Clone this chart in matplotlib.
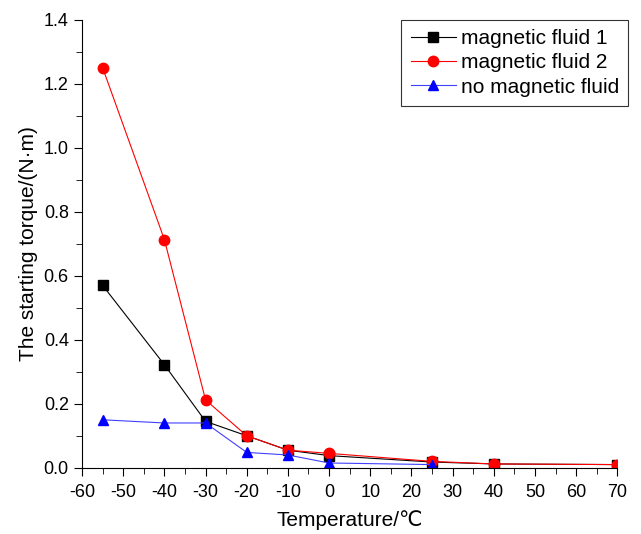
import numpy as np
import matplotlib
matplotlib.use("Agg")
import matplotlib.pyplot as plt
from matplotlib.ticker import MultipleLocator

temps = [-55, -40, -30, -20, -10, 0, 25, 40, 70]
fluid1 = [0.57, 0.322, 0.145, 0.10, 0.055, 0.038, 0.018, 0.012, 0.010]
fluid2 = [1.25, 0.713, 0.212, 0.10, 0.055, 0.045, 0.020, 0.012, 0.010]
temps_none = [-55, -40, -30, -20, -10, 0, 25]
no_fluid = [0.15, 0.14, 0.14, 0.048, 0.040, 0.015, 0.010]

plt.rcParams['font.family'] = ['Liberation Sans', 'DejaVu Sans']
plt.rcParams['axes.unicode_minus'] = False

fig = plt.figure(figsize=(6.41, 5.34), dpi=100)
ax = fig.add_axes([0.128, 0.124, 0.835, 0.839])

ax.plot(temps, fluid1, color='black', lw=0.8, marker='s', ms=6.5, label='magnetic fluid 1')
ax.plot(temps, fluid2, color='red', lw=0.8, marker='o', ms=7.5, label='magnetic fluid 2')
ax.plot(temps_none, no_fluid, color='#4040ff', lw=0.8, marker='^', ms=7.5,
        markerfacecolor='blue', markeredgecolor='blue', label='no magnetic fluid')

ax.set_xlim(-60, 70)
ax.set_ylim(0, 1.4)
ax.xaxis.set_major_locator(MultipleLocator(10))
ax.xaxis.set_minor_locator(MultipleLocator(5))
ax.yaxis.set_major_locator(MultipleLocator(0.2))
ax.yaxis.set_minor_locator(MultipleLocator(0.1))
ax.yaxis.set_major_formatter(matplotlib.ticker.FormatStrFormatter('%.1f'))
ax.spines['top'].set_visible(False)
ax.spines['right'].set_visible(False)
ax.tick_params(which='major', direction='out', length=6, labelsize=13)
ax.tick_params(axis='x', which='major', pad=6)
ax.tick_params(which='minor', direction='out', length=4)

ax.set_xlabel('Temperature/℃', fontsize=15, labelpad=6)
ax.set_ylabel('The starting torque/(N·m)', fontsize=15)

leg = fig.legend(loc='upper right', bbox_to_anchor=(0.98, 0.963), fontsize=15,
                 fancybox=False, edgecolor='black', handlelength=2.2,
                 handletextpad=0.2, borderpad=0.45, labelspacing=0.25,
                 borderaxespad=0)
leg.get_frame().set_linewidth(0.8)

fig.savefig('out.png', dpi=100, facecolor='white')
